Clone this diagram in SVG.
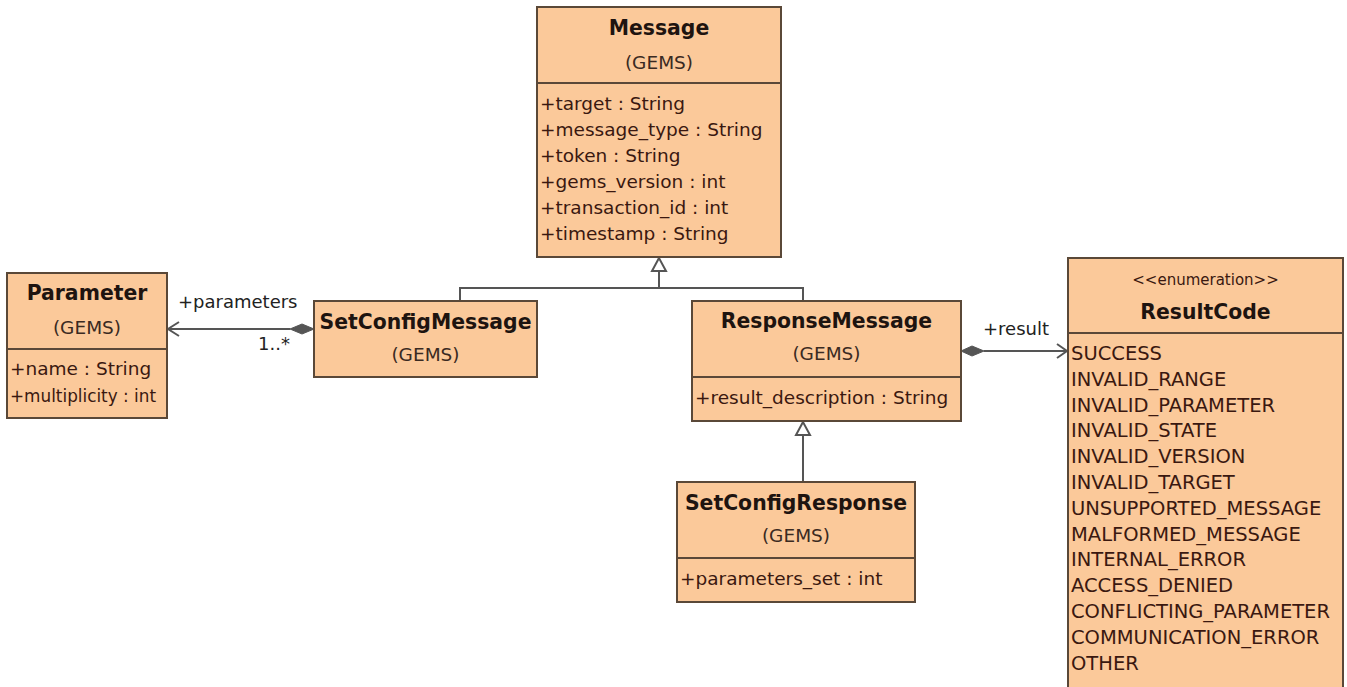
<svg xmlns="http://www.w3.org/2000/svg" width="1347" height="687" viewBox="0 0 1347 687">
<style>
.box{fill:#FBC99A;stroke:#5a4838;stroke-width:2}
.div{stroke:#5a4838;stroke-width:2}
.t{font-family:"DejaVu Sans",sans-serif;font-size:20.4px;font-weight:bold;fill:#1e1410;text-anchor:middle}
.p{font-family:"DejaVu Sans",sans-serif;font-size:18.5px;fill:#3a2a22;text-anchor:middle}
.a{font-family:"DejaVu Sans",sans-serif;font-size:18.5px;fill:#3a1810}
.e{font-family:"DejaVu Sans",sans-serif;font-size:19.5px;fill:#3a1810}
.s{font-family:"DejaVu Sans",sans-serif;font-size:15px;fill:#3a1810;text-anchor:middle}
.lbl{font-family:"DejaVu Sans",sans-serif;font-size:18px;fill:#222}
.c{stroke:#555;stroke-width:2;fill:none}
.tri{fill:#fff;stroke:#555;stroke-width:2}
.dia{fill:#555;stroke:#555;stroke-width:1}
</style>
<rect width="1347" height="687" fill="#fff"/>
<g id="connectors">
<polyline class="c" points="659,271 659,288"/>
<polyline class="c" points="460,301 460,288 803,288 803,301"/>
<polygon class="tri" points="659,258 652,271 666,271"/>
<line class="c" x1="803" y1="435" x2="803" y2="482"/>
<polygon class="tri" points="803,422 796,435 810,435"/>
<line class="c" x1="168" y1="329" x2="290" y2="329"/>
<polyline class="c" points="179,322 168,329 179,336"/>
<polygon class="dia" points="290,329 302,324 314,329 302,334"/>
<line class="c" x1="984" y1="351" x2="1067" y2="351"/>
<polyline class="c" points="1057,344 1067,351 1057,358"/>
<polygon class="dia" points="961,351 972,346 984,351 972,356"/>
<text class="lbl" x="178" y="308">+parameters</text>
<text class="lbl" x="258" y="350">1..*</text>
<text class="lbl" x="983" y="335">+result</text>
</g>
<g id="Message">
<rect class="box" x="537" y="7" width="244" height="250"/>
<line class="div" x1="537" y1="83" x2="781" y2="83"/>
<text class="t" x="659" y="35">Message</text>
<text class="p" x="659" y="69">(GEMS)</text>
<text class="a" x="540" y="110">+target : String</text>
<text class="a" x="540" y="136">+message_type : String</text>
<text class="a" x="540" y="162">+token : String</text>
<text class="a" x="540" y="188">+gems_version : int</text>
<text class="a" x="540" y="214">+transaction_id : int</text>
<text class="a" x="540" y="240">+timestamp : String</text>
</g>
<g id="Parameter">
<rect class="box" x="7" y="273" width="160" height="145"/>
<line class="div" x1="7" y1="349" x2="167" y2="349"/>
<text class="t" x="87" y="300">Parameter</text>
<text class="p" x="87" y="334">(GEMS)</text>
<text class="a" x="10" y="375">+name : String</text>
<text class="a" x="10" y="402" textLength="146" lengthAdjust="spacingAndGlyphs">+multiplicity : int</text>
</g>
<g id="SetConfigMessage">
<rect class="box" x="314" y="301" width="223" height="76"/>
<text class="t" x="425.5" y="329">SetConfigMessage</text>
<text class="p" x="425.5" y="361">(GEMS)</text>
</g>
<g id="ResponseMessage">
<rect class="box" x="692" y="301" width="269" height="120"/>
<line class="div" x1="692" y1="377" x2="961" y2="377"/>
<text class="t" x="826.5" y="328">ResponseMessage</text>
<text class="p" x="826.5" y="360">(GEMS)</text>
<text class="a" x="695" y="404">+result_description : String</text>
</g>
<g id="SetConfigResponse">
<rect class="box" x="677" y="482" width="238" height="120"/>
<line class="div" x1="677" y1="558" x2="915" y2="558"/>
<text class="t" x="796" y="510">SetConfigResponse</text>
<text class="p" x="796" y="542">(GEMS)</text>
<text class="a" x="680" y="585">+parameters_set : int</text>
</g>
<g id="ResultCode">
<rect class="box" x="1068" y="258" width="275" height="440"/>
<line class="div" x1="1068" y1="333" x2="1343" y2="333"/>
<text class="s" x="1205.5" y="285">&lt;&lt;enumeration&gt;&gt;</text>
<text class="t" x="1205.5" y="319">ResultCode</text>
<text class="e" x="1071" y="360">SUCCESS</text>
<text class="e" x="1071" y="386">INVALID_RANGE</text>
<text class="e" x="1071" y="412">INVALID_PARAMETER</text>
<text class="e" x="1071" y="437">INVALID_STATE</text>
<text class="e" x="1071" y="463">INVALID_VERSION</text>
<text class="e" x="1071" y="489">INVALID_TARGET</text>
<text class="e" x="1071" y="515">UNSUPPORTED_MESSAGE</text>
<text class="e" x="1071" y="541">MALFORMED_MESSAGE</text>
<text class="e" x="1071" y="566">INTERNAL_ERROR</text>
<text class="e" x="1071" y="592">ACCESS_DENIED</text>
<text class="e" x="1071" y="618">CONFLICTING_PARAMETER</text>
<text class="e" x="1071" y="644">COMMUNICATION_ERROR</text>
<text class="e" x="1071" y="670">OTHER</text>
</g>
</svg>
